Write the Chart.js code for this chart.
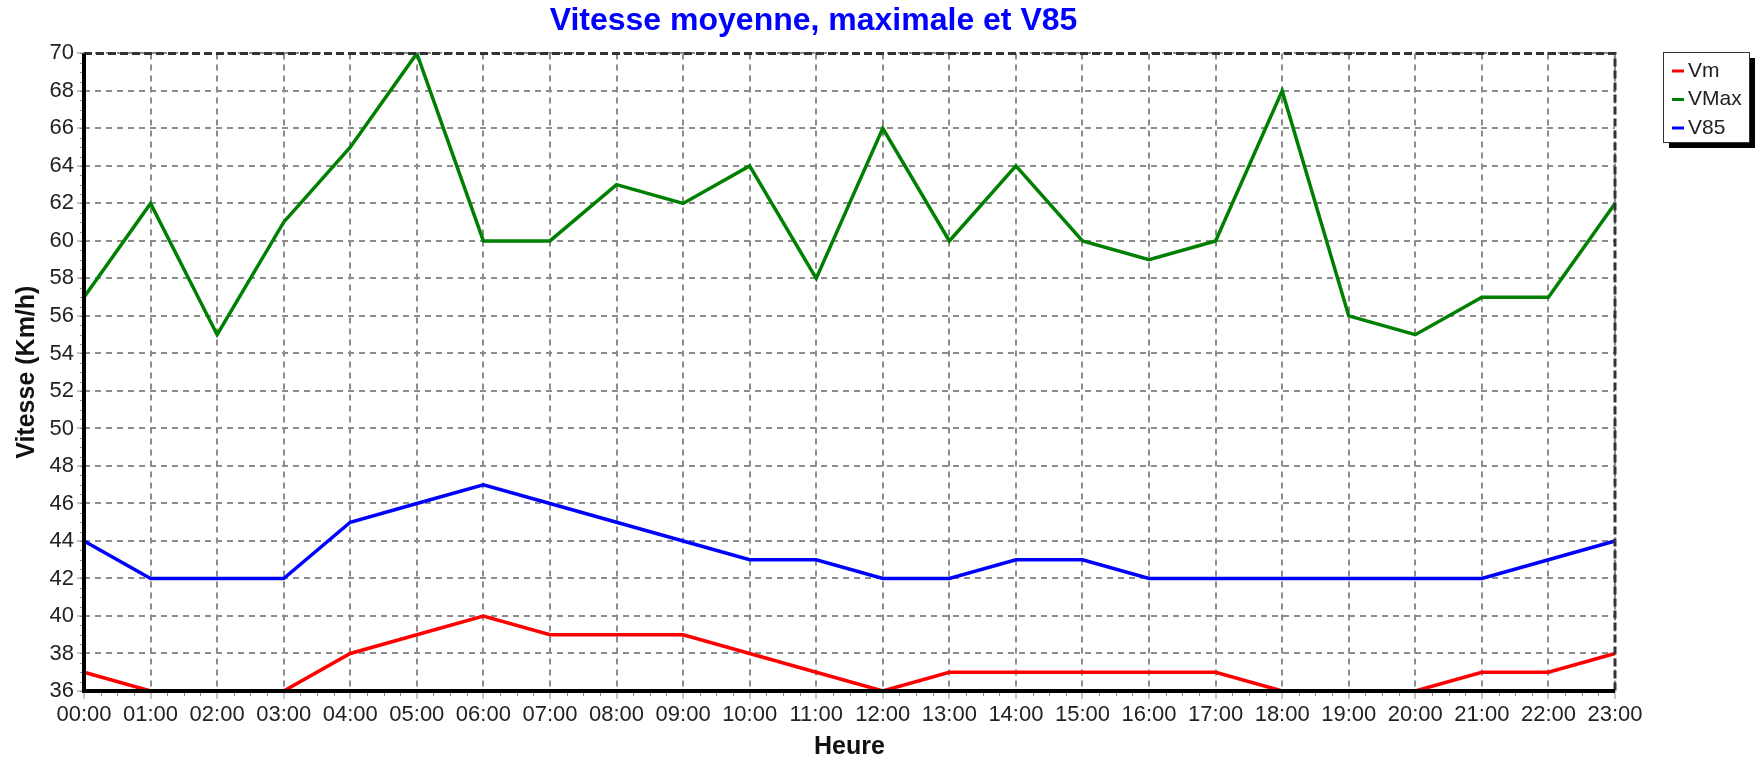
<!DOCTYPE html>
<html>
<head>
<meta charset="utf-8">
<script src="https://cdn.jsdelivr.net/npm/chart.js@4.4.1/dist/chart.umd.min.js"></script>
<style>
  html, body { margin: 0; padding: 0; background: #fff; }
</style>
</head>
<body>
<canvas id="vitesse-chart" width="1762" height="762"></canvas>
<script>
// heures de la journée
const heures = ["00:00", "01:00", "02:00", "03:00", "04:00", "05:00", "06:00", "07:00",
  "08:00", "09:00", "10:00", "11:00", "12:00", "13:00", "14:00", "15:00",
  "16:00", "17:00", "18:00", "19:00", "20:00", "21:00", "22:00", "23:00"];

// vitesses en km/h
const vitesseMoyenne = [37, 36, 36, 36, 38, 39, 40, 39, 39, 39, 38, 37, 36, 37, 37, 37, 37, 37, 36, 36, 36, 37, 37, 38];
const vitesseMax = [57, 62, 55, 61, 65, 70, 60, 60, 63, 62, 64, 58, 66, 60, 64, 60, 59, 60, 68, 56, 55, 57, 57, 62];
const vitesseV85 = [44, 42, 42, 42, 45, 46, 47, 46, 45, 44, 43, 43, 42, 42, 43, 43, 42, 42, 42, 42, 42, 42, 43, 44];

const nomsSeries = ["Vm", "VMax", "V85"];
const couleurs = ["#ff0000", "#008000", "#0000ff"];

const yMin = 36;
const yMax = 70;
const yPas = 2;

Chart.defaults.font.family = "'Liberation Sans', Arial, sans-serif";
Chart.defaults.color = "#222";

// cadre, petites graduations et légende avec ombre
const cadrePlugin = {
  id: "cadre",
  beforeDraw(chart) {
    const ctx = chart.ctx;
    ctx.save();
    ctx.fillStyle = "#fff";
    ctx.fillRect(0, 0, chart.width, chart.height);
    ctx.restore();
  },
  afterDatasetsDraw(chart) {
    const { ctx, chartArea: a, scales } = chart;
    ctx.save();
    ctx.strokeStyle = "#8c8c8c";
    ctx.lineWidth = 1;
    ctx.beginPath();
    for (let v = yMin; v <= yMax; v += 0.5) {
      const y = Math.round(scales.y.getPixelForValue(v)) + 0.5;
      ctx.moveTo(a.left - 4, y);
      ctx.lineTo(a.left, y);
    }
    for (let i = 0; i < heures.length - 1; i++) {
      for (let q = 1; q < 4; q++) {
        const x = Math.round(scales.x.getPixelForValue(i + q / 4)) + 0.5;
        ctx.moveTo(x, a.bottom);
        ctx.lineTo(x, a.bottom + 5);
      }
    }
    ctx.stroke();

    // haut et droite en pointillés
    ctx.setLineDash([8, 4]);
    ctx.strokeStyle = "#333";
    ctx.lineWidth = 3;
    ctx.beginPath();
    ctx.moveTo(a.left, a.top);
    ctx.lineTo(a.right, a.top);
    ctx.lineTo(a.right, a.bottom);
    ctx.stroke();

    // axes gauche et bas
    ctx.setLineDash([]);
    ctx.strokeStyle = "#000";
    ctx.lineWidth = 4;
    ctx.beginPath();
    ctx.moveTo(a.left, a.top);
    ctx.lineTo(a.left, a.bottom);
    ctx.lineTo(a.right, a.bottom);
    ctx.stroke();
    ctx.restore();
  },
  afterDraw(chart) {
    const ctx = chart.ctx;
    const bx = 1663, by = 52, bw = 86, bh = 90;
    ctx.save();
    ctx.fillStyle = "#000";
    ctx.fillRect(bx + 6, by + 6, bw, bh);
    ctx.fillStyle = "#fff";
    ctx.fillRect(bx, by, bw, bh);
    ctx.strokeStyle = "#333";
    ctx.lineWidth = 1;
    ctx.strokeRect(bx + 0.5, by + 0.5, bw, bh);

    ctx.font = "21px 'Liberation Sans', Arial, sans-serif";
    ctx.textBaseline = "middle";
    chart.data.datasets.forEach((ds, i) => {
      const y = by + 19 + i * 28.5;
      ctx.strokeStyle = ds.borderColor;
      ctx.lineWidth = 3;
      ctx.beginPath();
      ctx.moveTo(bx + 9, y);
      ctx.lineTo(bx + 21, y);
      ctx.stroke();
      ctx.fillStyle = "#222";
      ctx.fillText(ds.label, bx + 25, y);
    });
    ctx.restore();
  },
};

const serie = (label, data, couleur) => ({
  label: label,
  data: data,
  borderColor: couleur,
  backgroundColor: couleur,
  borderWidth: 3.5,
  pointRadius: 0,
  tension: 0,
  fill: false,
});

const grille = {
  color: "#8c8c8c",
  lineWidth: 2,
  tickLength: 8,
  tickColor: "#8c8c8c",
  tickWidth: 1,
  tickBorderDash: [],
};

new Chart(document.getElementById("vitesse-chart"), {
  type: "line",
  data: {
    labels: heures,
    datasets: [
      serie(nomsSeries[0], vitesseMoyenne, couleurs[0]),
      serie(nomsSeries[1], vitesseMax, couleurs[1]),
      serie(nomsSeries[2], vitesseV85, couleurs[2]),
    ],
  },
  options: {
    responsive: false,
    animation: false,
    layout: { padding: { left: 12, right: 147, top: 2, bottom: 0 } },
    plugins: {
      legend: { display: false },
      tooltip: { enabled: false },
      title: {
        display: true,
        text: "Vitesse moyenne, maximale et V85",
        color: "#0000ff",
        font: { size: 32, weight: "bold" },
        padding: { top: 0, bottom: 13 },
      },
    },
    scales: {
      x: {
        offset: false,
        grid: grille,
        border: { display: false, dash: [6, 5] },
        ticks: { font: { size: 22 }, color: "#222", padding: 3, maxRotation: 0, autoSkip: false },
        title: {
          display: true,
          text: "Heure",
          color: "#111",
          font: { size: 25, weight: "bold", lineHeight: 1 },
          padding: { top: 0, bottom: 2 },
        },
        afterFit(scale) {
          scale.height = 71;
        },
      },
      y: {
        min: yMin,
        max: yMax,
        grid: Object.assign({}, grille, { tickLength: 7 }),
        border: { display: false, dash: [6, 5] },
        ticks: { stepSize: yPas, font: { size: 22 }, color: "#222", padding: 3 },
        title: {
          display: true,
          text: "Vitesse (Km/h)",
          color: "#111",
          font: { size: 25, weight: "bold" },
          padding: { top: 0, bottom: 0 },
        },
        afterFit(scale) {
          scale.width = 72;
        },
      },
    },
  },
  plugins: [cadrePlugin],
});
</script>
</body>
</html>
